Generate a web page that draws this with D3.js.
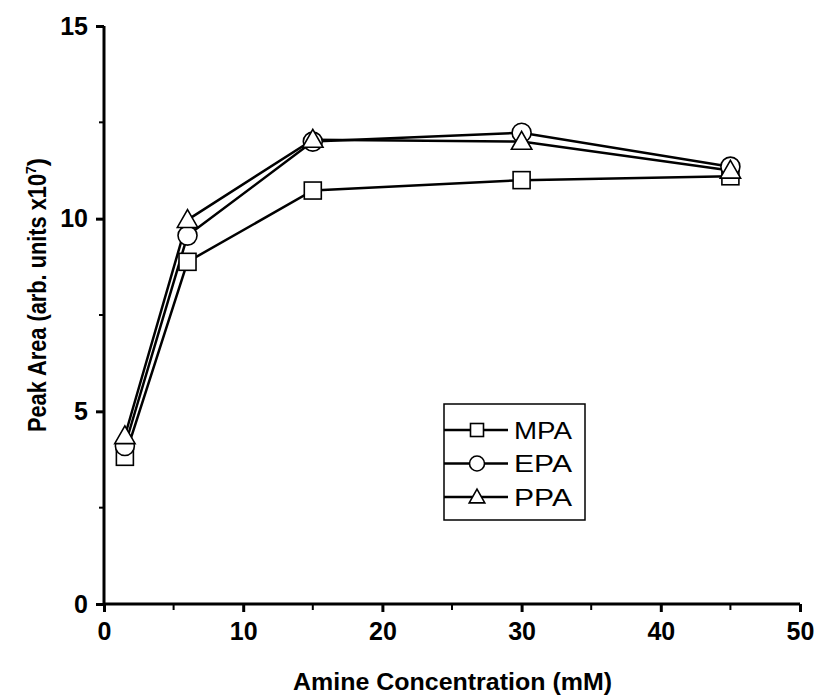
<!DOCTYPE html>
<html>
<head>
<meta charset="utf-8">
<script src="https://cdn.jsdelivr.net/npm/d3@7"></script>
<style>
  body { margin: 0; background: #fff; }
  svg text { font-family: "Liberation Sans", Arial, sans-serif; }
</style>
</head>
<body>
<svg id="chart" width="819" height="697"></svg>
<script>
// data
const conc = [1.5, 6, 15, 30, 45];
const mpa = [3.82, 8.88, 10.73, 11.0, 11.1];
const epa = [4.1, 9.56, 12.0, 12.23, 11.35];
const ppa = [4.36, 9.97, 12.05, 12.0, 11.25];
const seriesNames = ["MPA", "EPA", "PPA"];
const xTicks = [0, 10, 20, 30, 40, 50];
const yTicks = [0, 5, 10, 15];

const svg = d3.select("#chart");
const x = d3.scaleLinear().domain([0, 50]).range([104, 800]);
const y = d3.scaleLinear().domain([0, 15]).range([604, 26]);

// axes
const xAxis = d3.axisBottom(x).tickValues(xTicks).tickSize(8).tickPadding(10);
const yAxis = d3.axisLeft(y).tickValues(yTicks).tickSize(8).tickPadding(8);

const gx = svg.append("g").attr("transform", "translate(0," + y(0) + ")").call(xAxis);
const gy = svg.append("g").attr("transform", "translate(" + x(0) + ",0)").call(yAxis);

// minor ticks
gx.selectAll(".minor").data(d3.range(5, 50, 10)).enter().append("line")
  .attr("x1", d => x(d)).attr("x2", d => x(d))
  .attr("y1", 0).attr("y2", 6)
  .attr("stroke", "#000").attr("stroke-width", 2);
gy.selectAll(".minor").data(d3.range(2.5, 15, 5)).enter().append("line")
  .attr("y1", d => y(d)).attr("y2", d => y(d))
  .attr("x1", 0).attr("x2", -5)
  .attr("stroke", "#000").attr("stroke-width", 2);

[gx, gy].forEach(g => {
  g.attr("font-size", null).attr("font-family", null);
  g.select(".domain").attr("stroke", "#000").attr("stroke-width", 3);
  g.selectAll(".tick line").attr("stroke", "#000").attr("stroke-width", 3);
  g.selectAll(".tick text")
    .attr("fill", "#000")
    .style("font-size", "25px")
    .style("font-weight", "bold");
});
gx.select(".domain").attr("d", "M" + x(0) + ",0H" + x(50));
gy.select(".domain").attr("d", "M0," + y(0) + "V" + y(15));

// axis titles
svg.append("text")
  .attr("x", 293).attr("y", 690)
  .attr("textLength", 319).attr("lengthAdjust", "spacingAndGlyphs")
  .style("font-size", "23px").style("font-weight", "bold")
  .text("Amine Concentration (mM)");

const yt = svg.append("text")
  .attr("transform", "translate(46,432) rotate(-90)")
  .style("font-size", "25px").style("font-weight", "bold");
yt.append("tspan").attr("textLength", 258).attr("lengthAdjust", "spacingAndGlyphs")
  .text("Peak Area (arb. units x10");
yt.append("tspan").attr("dy", -10).style("font-size", "14px").text("7");
yt.append("tspan").attr("dy", 10).text(")");

// markers
function drawMarker(g, type, cx, cy, s) {
  if (type === "square") {
    g.append("rect").attr("x", cx - s / 2).attr("y", cy - s / 2)
      .attr("width", s).attr("height", s)
      .attr("fill", "#fff").attr("stroke", "#000").attr("stroke-width", 1.6);
  } else if (type === "circle") {
    g.append("circle").attr("cx", cx).attr("cy", cy).attr("r", s / 2 + 1)
      .attr("fill", "#fff").attr("stroke", "#000").attr("stroke-width", 1.6);
  } else {
    const h = s * 1.0, w = s * 1.2;
    g.append("path")
      .attr("d", "M" + cx + "," + (cy - h * 0.6) + "L" + (cx + w / 2) + "," + (cy + h * 0.45) +
        "L" + (cx - w / 2) + "," + (cy + h * 0.45) + "Z")
      .attr("fill", "#fff").attr("stroke", "#000").attr("stroke-width", 1.6);
  }
}

const series = [
  { name: seriesNames[0], vals: mpa, marker: "square" },
  { name: seriesNames[1], vals: epa, marker: "circle" },
  { name: seriesNames[2], vals: ppa, marker: "triangle" }
];

const line = d3.line().x(d => x(d[0])).y(d => y(d[1]));

series.forEach(s => {
  svg.append("path")
    .datum(conc.map((c, i) => [c, s.vals[i]]))
    .attr("d", line)
    .attr("fill", "none").attr("stroke", "#000").attr("stroke-width", 2.5);
});
series.forEach(s => {
  const g = svg.append("g");
  conc.forEach((c, i) => drawMarker(g, s.marker, x(c), y(s.vals[i]), 17));
});

// legend
const lg = svg.append("g");
lg.append("rect").attr("x", 444).attr("y", 404).attr("width", 141).attr("height", 116)
  .attr("fill", "#fff").attr("stroke", "#000").attr("stroke-width", 1.5);
series.forEach((s, i) => {
  const ly = 430 + i * 33.5;
  lg.append("line").attr("x1", 444).attr("x2", 508).attr("y1", ly).attr("y2", ly)
    .attr("stroke", "#000").attr("stroke-width", 2.5);
  drawMarker(lg, s.marker, 477, ly, 13);
  lg.append("text").attr("x", 514).attr("y", ly + 8.5)
    .attr("textLength", 58).attr("lengthAdjust", "spacingAndGlyphs")
    .style("font-size", "23px").text(s.name);
});
</script>
</body>
</html>
